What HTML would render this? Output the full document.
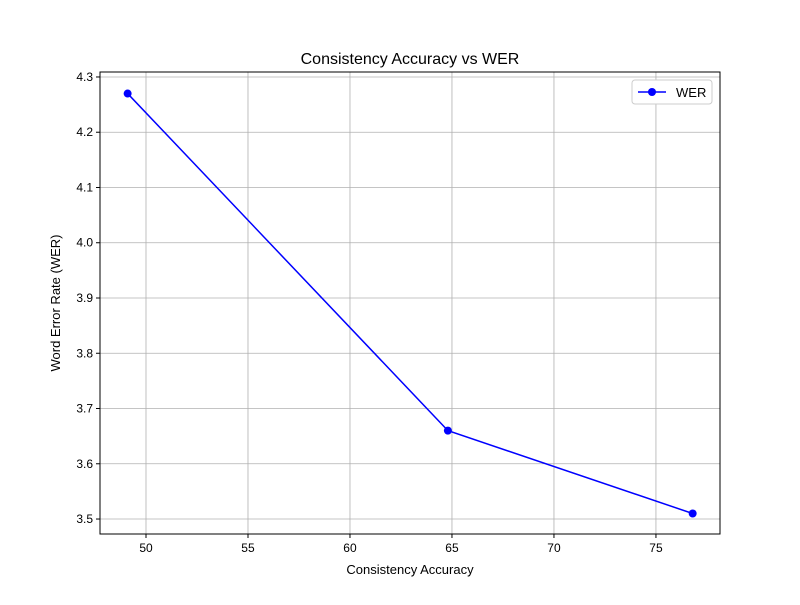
<!DOCTYPE html>
<html><head><meta charset="utf-8"><style>
body{margin:0;background:#fff;}
svg text{font-family:"Liberation Sans","DejaVu Sans",sans-serif;}
</style></head><body>
<svg id="chart" width="800" height="600">
<rect width="800" height="600" fill="#fff"/>
<g id="grid"></g>
<g id="ticks"></g>
<g id="series"></g>
<rect x="100" y="72" width="620" height="462" fill="none" stroke="#000" stroke-width="1"/>
<text x="410" y="64" font-size="16" text-anchor="middle">Consistency Accuracy vs WER</text>
<text x="410" y="574" font-size="13" text-anchor="middle">Consistency Accuracy</text>
<text x="60" y="303" font-size="13" text-anchor="middle" transform="rotate(-90 60 303)">Word Error Rate (WER)</text>
<g>
<rect x="632" y="80" width="80" height="24" fill="#fff" stroke="#ccc" rx="3"/>
<line x1="638" y1="92" x2="666" y2="92" stroke="blue" stroke-width="1.5"/>
<circle cx="652" cy="92" r="4" fill="blue"/>
<text x="676" y="97" font-size="13">WER</text>
</g>
</svg>
<script>
const xValues=[49.1,64.8,76.8];
const werValues=[4.27,3.66,3.51];
const xTicks=[50,55,60,65,70,75];
const yTicks=[3.5,3.6,3.7,3.8,3.9,4.0,4.1,4.2,4.3];
const X0=47.745,X1=78.14,Y0=3.4729,Y1=4.309;
const L=100,R=720,T=72,B=534;
const xs=v=>L+(v-X0)/(X1-X0)*(R-L);
const ys=v=>B-(v-Y0)/(Y1-Y0)*(B-T);
const NS="http://www.w3.org/2000/svg";
const g=document.getElementById('grid'),tk=document.getElementById('ticks'),se=document.getElementById('series');
function mk(t,a,p){const e=document.createElementNS(NS,t);for(const k in a)e.setAttribute(k,a[k]);p.appendChild(e);return e;}
xTicks.forEach(v=>{const x=xs(v);
const l=mk('line',{x1:x,x2:x,y1:T,y2:B,stroke:'#b0b0b0','stroke-width':0.8},g);


mk('line',{x1:x,x2:x,y1:B,y2:B+4,stroke:'#000'},tk);
const t=mk('text',{x:x,y:B+18,'font-size':12,'text-anchor':'middle'},tk);t.textContent=v;

});
yTicks.forEach(v=>{const y=ys(v);
const l=mk('line',{x1:L,x2:R,y1:y,y2:y,stroke:'#b0b0b0','stroke-width':0.8},g);


mk('line',{x1:L-4,x2:L,y1:y,y2:y,stroke:'#000'},tk);
const t=mk('text',{x:L-7,y:y+4,'font-size':12,'text-anchor':'end'},tk);t.textContent=v.toFixed(1);

});
const pl=mk('polyline',{points:xValues.map((v,i)=>xs(v)+','+ys(werValues[i])).join(' '),fill:'none',stroke:'blue','stroke-width':1.5},se);


xValues.forEach((v,i)=>{const c=mk('circle',{cx:xs(v),cy:ys(werValues[i]),r:4,fill:'blue'},se);

});
</script>
</body></html>
